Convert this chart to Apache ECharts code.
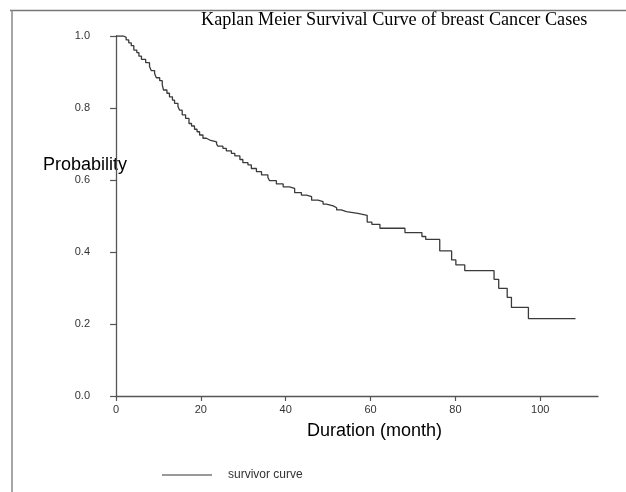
<!DOCTYPE html>
<html>
<head>
<meta charset="utf-8">
<script src="https://cdn.jsdelivr.net/npm/echarts@6/dist/echarts.min.js"></script>
<style>html,body{margin:0;padding:0;background:#fff;}#c{width:626px;height:492px;}</style>
</head>
<body>
<div id="c"></div>
<script>
// Kaplan-Meier step points: month at which survival drops, survival after the drop
const months = [0,1.8,2.4,3.0,3.6,4.2,4.9,5.4,6.0,7.0,7.9,8.3,9.1,9.5,10.3,10.9,11.2,12.0,12.6,13.3,13.8,14.6,15.0,15.6,16.4,17.2,17.8,18.5,19.1,19.7,20.5,21.3,22.1,23.7,24.0,25.2,26.0,27.2,28.0,29.2,29.9,31.1,31.9,33.1,34.3,35.8,36.2,37.8,39.4,40.9,42.1,43.7,44.9,46.1,47.6,48.8,49.6,51.2,52.0,53.1,54.3,57.0,59.2,60.3,62.2,68.1,72.1,73.0,76.3,79.1,80.1,82.2,89.1,90.2,92.2,93.2,97.2,108.3];
const survival = [1.0,0.996,0.989,0.981,0.973,0.961,0.954,0.944,0.935,0.926,0.915,0.904,0.896,0.884,0.876,0.864,0.850,0.841,0.831,0.822,0.813,0.804,0.794,0.781,0.771,0.757,0.750,0.741,0.734,0.725,0.716,0.711,0.706,0.700,0.694,0.688,0.681,0.674,0.667,0.657,0.648,0.642,0.632,0.623,0.614,0.607,0.598,0.589,0.581,0.577,0.565,0.558,0.554,0.544,0.540,0.533,0.528,0.523,0.517,0.512,0.507,0.502,0.483,0.477,0.466,0.454,0.443,0.435,0.403,0.378,0.364,0.348,0.324,0.299,0.274,0.246,0.215,0.215];
const xTicks = [0,20,40,60,80,100];
const yTicks = [0,0.2,0.4,0.6,0.8,1.0];
const titleText = 'Kaplan Meier Survival Curve of breast Cancer Cases';
const xName = 'Duration (month)';
const yName = 'Probability';
const seriesName = 'survivor curve';

const chart = echarts.init(document.getElementById('c'), null, {renderer:'canvas'});
const data = months.map((m,i)=>[m, survival[i]]);
chart.setOption({
  backgroundColor:'#ffffff',
  animation:false,
  grid:{left:116, right:28, top:36, bottom:96},
  xAxis:{
    type:'value', min:0, max:113.6,
    axisLine:{show:true, onZero:false, lineStyle:{color:'#555', width:1.3}},
    axisTick:{show:true, length:5, customValues:xTicks, lineStyle:{color:'#555', width:1.2}},
    axisLabel:{customValues:xTicks, margin:8, color:'#333', fontSize:11, fontFamily:'Liberation Sans'},
    splitLine:{show:false}
  },
  yAxis:{
    type:'value', min:0, max:1, interval:0.2,
    axisLine:{show:true, onZero:false, lineStyle:{color:'#555', width:1.3}},
    axisTick:{show:true, length:6, lineStyle:{color:'#555', width:1.2}},
    axisLabel:{margin:26, color:'#333', fontSize:11, fontFamily:'Liberation Sans', formatter:v=>v.toFixed(1)},
    splitLine:{show:false}
  },
  legend:{
    left:157, top:464, itemWidth:50, itemHeight:2, icon:'rect',
    data:[{name:seriesName, itemStyle:{color:'#999'}}],
    textStyle:{color:'#333', fontSize:12, fontFamily:'Liberation Sans', padding:[0,0,0,11]}
  },
  series:[{
    name:seriesName, type:'line', step:'end', data:data,
    showSymbol:false, symbol:'none',
    lineStyle:{color:'#3a3a3a', width:1.3},
    itemStyle:{color:'#999'}
  }],
  graphic:[
    {type:'line', shape:{x1:10, y1:10.5, x2:626, y2:10.5}, style:{stroke:'#777', lineWidth:1.5}},
    {type:'line', shape:{x1:12, y1:10, x2:12, y2:492}, style:{stroke:'#888', lineWidth:1.5}},
    {type:'text', left:201, top:11, style:{text:titleText, fontFamily:'Liberation Serif', fontSize:18.2, fill:'#000'}},
    {type:'text', left:43, top:156, style:{text:yName, fontFamily:'Liberation Sans', fontSize:18, fill:'#000'}},
    {type:'text', left:307, top:422, style:{text:xName, fontFamily:'Liberation Sans', fontSize:18, fill:'#000'}}
  ]
});
</script>
</body>
</html>
